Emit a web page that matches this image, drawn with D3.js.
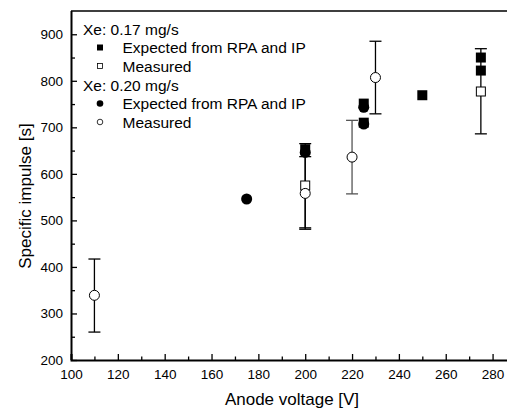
<!DOCTYPE html>
<html>
<head>
<meta charset="utf-8">
<script src="https://cdn.jsdelivr.net/npm/d3@7"></script>
<style>
  body { margin: 0; background: #fff; }
  svg { display: block; font-family: "Liberation Sans", Arial, sans-serif; }
  .tick-label { font-size: 13.5px; fill: #000; }
  .axis-title { font-size: 17px; fill: #000; }
  .legend text { font-size: 15.5px; fill: #000; }
</style>
</head>
<body>
<svg id="chart"></svg>
<script>
// Xe 0.17 mg/s, expected from RPA and IP (filled squares)
const exp017V = [200, 225, 225, 250, 275, 275];
const exp017Isp = [653, 751, 710, 769, 850, 822];

// Xe 0.17 mg/s, measured (open squares, with error bars)
const meas017V = [200, 275];
const meas017Isp = [575, 777];
const meas017Lo = [484, 686];
const meas017Hi = [665, 869];

// Xe 0.20 mg/s, expected from RPA and IP (filled circles)
const exp020V = [175, 200, 225, 225];
const exp020Isp = [546, 646, 743, 707];

// Xe 0.20 mg/s, measured (open circles, with error bars)
const meas020V = [110, 200, 220, 230];
const meas020Isp = [339, 558, 636, 807];
const meas020Lo = [260, 481, 557, 729];
const meas020Hi = [417, 637, 715, 885];

const xTicks = [100, 120, 140, 160, 180, 200, 220, 240, 260, 280];
const yTicks = [200, 300, 400, 500, 600, 700, 800, 900];

const W = 507, H = 412;
const svg = d3.select('#chart').attr('width', W).attr('height', H);

const x = d3.scaleLinear().domain([100, 290]).range([71, 516]);
const y = d3.scaleLinear().domain([200, 950]).range([360, 11]);

// frame (top and right edges)
svg.append('path')
  .attr('d', `M${x(100)},${y(950)}H${x(290)}V${y(200)}`)
  .attr('fill', 'none').attr('stroke', '#000').attr('stroke-width', 1.5);

// x axis with inward ticks
const xMinor = svg.append('g').attr('transform', `translate(0,${y(200)})`)
  .call(d3.axisBottom(x).tickValues(d3.range(110, 290, 20)).tickSize(-3.5).tickFormat(''));
xMinor.select('.domain').remove();
const xMajor = svg.append('g').attr('transform', `translate(0,${y(200)})`)
  .call(d3.axisBottom(x).tickValues(xTicks).tickSize(-6).tickPadding(9));
xMajor.select('.domain').attr('stroke-width', 2);
xMajor.selectAll('text').attr('class', 'tick-label').attr('font-size', null).attr('font-family', null);

// y axis with inward ticks
const yMinor = svg.append('g').attr('transform', `translate(${x(100)},0)`)
  .call(d3.axisLeft(y).tickValues(d3.range(250, 950, 100)).tickSize(-4).tickFormat(''));
yMinor.select('.domain').remove();
const yMajor = svg.append('g').attr('transform', `translate(${x(100)},0)`)
  .call(d3.axisLeft(y).tickValues(yTicks).tickSize(-6).tickPadding(8));
yMajor.select('.domain').attr('stroke-width', 2).attr('d', `M0.5,${y(950)}V${y(200)}`);
yMajor.selectAll('text').attr('class', 'tick-label').attr('font-size', null).attr('font-family', null);
svg.selectAll('.tick line').attr('stroke-width', 1.3);

// axis titles
svg.append('text').attr('class', 'axis-title')
  .attr('x', 292).attr('y', 405).attr('text-anchor', 'middle')
  .text('Anode voltage [V]');
svg.append('text').attr('class', 'axis-title')
  .attr('transform', `translate(31,196) rotate(-90)`)
  .attr('text-anchor', 'middle')
  .text('Specific impulse [s]');

const plot = svg.append('g');

// error bars
function errorBars(vs, lo, hi, color) {
  const g = plot.append('g').attr('stroke', color).attr('stroke-width', 1.3);
  vs.forEach((v, i) => {
    const cx = x(v);
    g.append('line').attr('x1', cx).attr('x2', cx).attr('y1', y(lo[i])).attr('y2', y(hi[i]));
    g.append('line').attr('x1', cx - 6).attr('x2', cx + 6).attr('y1', y(lo[i])).attr('y2', y(lo[i]));
    g.append('line').attr('x1', cx - 6).attr('x2', cx + 6).attr('y1', y(hi[i])).attr('y2', y(hi[i]));
  });
}
errorBars(meas017V, meas017Lo, meas017Hi, '#000');
meas020V.forEach((v, i) => {
  errorBars([v], [meas020Lo[i]], [meas020Hi[i]], v === 220 ? '#555' : '#000');
});

// markers
const sq = 10, r = 5.5;
plot.selectAll('.m017').data(meas017V).join('rect')
  .attr('x', d => x(d) - 4.5).attr('y', (d, i) => y(meas017Isp[i]) - 4.5)
  .attr('width', 9).attr('height', 9)
  .attr('fill', '#fff').attr('stroke', '#000').attr('stroke-width', 1);
plot.selectAll('.m020').data(meas020V).join('circle')
  .attr('cx', d => x(d)).attr('cy', (d, i) => y(meas020Isp[i])).attr('r', 5)
  .attr('fill', '#fff').attr('stroke', '#000').attr('stroke-width', 1);
plot.selectAll('.e017').data(exp017V).join('rect')
  .attr('x', d => x(d) - sq / 2).attr('y', (d, i) => y(exp017Isp[i]) - sq / 2)
  .attr('width', sq).attr('height', sq).attr('fill', '#000');
plot.selectAll('.e020').data(exp020V).join('circle')
  .attr('cx', d => x(d)).attr('cy', (d, i) => y(exp020Isp[i])).attr('r', r)
  .attr('fill', '#000');

// legend
const leg = svg.append('g').attr('class', 'legend');
const rows = [
  {t: 'Xe: 0.17 mg/s', y: 29},
  {t: 'Expected from RPA and IP', y: 47.5, s: 'fsq'},
  {t: 'Measured', y: 66, s: 'osq'},
  {t: 'Xe: 0.20 mg/s', y: 85},
  {t: 'Expected from RPA and IP', y: 103.5, s: 'fci'},
  {t: 'Measured', y: 122, s: 'oci'}
];
rows.forEach(row => {
  leg.append('text').attr('x', row.s ? 122.5 : 83).attr('y', row.y + 5.5).text(row.t);
  if (row.s === 'fsq') leg.append('rect').attr('x', 97).attr('y', row.y - 3).attr('width', 6).attr('height', 6).attr('fill', '#000');
  if (row.s === 'osq') leg.append('rect').attr('x', 97.5).attr('y', row.y - 2.5).attr('width', 5).attr('height', 5).attr('fill', '#fff').attr('stroke', '#000').attr('stroke-width', 0.8);
  if (row.s === 'fci') leg.append('circle').attr('cx', 100).attr('cy', row.y).attr('r', 3.3).attr('fill', '#000');
  if (row.s === 'oci') leg.append('circle').attr('cx', 100).attr('cy', row.y).attr('r', 2.8).attr('fill', '#fff').attr('stroke', '#000').attr('stroke-width', 0.8);
});
</script>
</body>
</html>
